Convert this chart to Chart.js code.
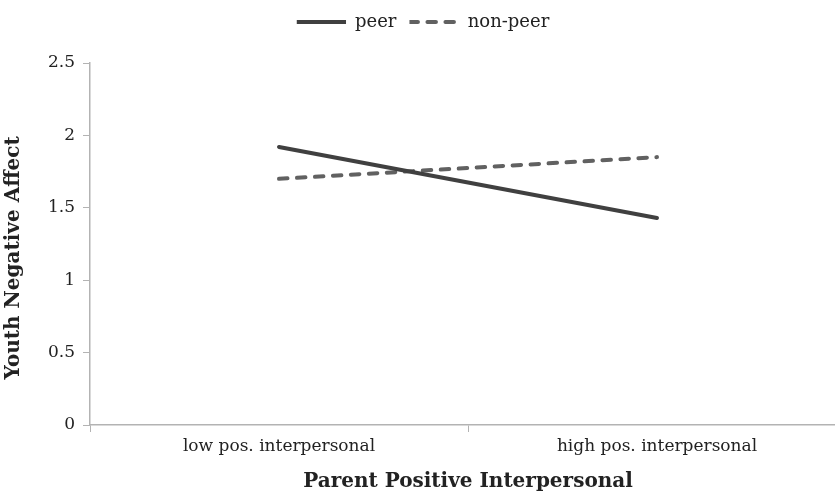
<!DOCTYPE html>
<html>
<head>
<meta charset="utf-8">
<script src="https://cdn.jsdelivr.net/npm/chart.js@4"></script>
<style>
  html, body { margin: 0; padding: 0; background: #fff; overflow: hidden; }
  #wrap { width: 850px; height: 494px; }
</style>
</head>
<body>
<div id="wrap"><canvas id="chart" width="850" height="494"></canvas></div>
<script>
const categories = ["low pos. interpersonal", "high pos. interpersonal"];
const peer = [1.92, 1.43];
const nonPeer = [1.70, 1.85];
const yTicks = [0, 0.5, 1, 1.5, 2, 2.5];

const serif = "'DejaVu Serif', serif";

let ctx = document.getElementById("chart").getContext("2d");

let chart = new Chart(ctx, {
    type: 'line',
    data: {
        labels: categories,
        datasets: [{
            label: 'peer',
            data: peer,
            borderColor: '#404040',
            backgroundColor: '#404040',
            borderWidth: 4,
            pointRadius: 0,
            borderCapStyle: 'round'
        }, {
            label: 'non-peer',
            data: nonPeer,
            borderColor: '#616161',
            backgroundColor: '#616161',
            borderWidth: 4,
            borderDash: [8.5, 9.5],
            pointRadius: 0,
            borderCapStyle: 'round'
        }]
    },
    options: {
        responsive: false,
        animation: false,
        layout: { padding: { top: 0, right: 4, left: 0, bottom: 0 } },
        plugins: {
            legend: {
                position: 'top',
                weight: 3000,
                labels: {
                    boxWidth: 49.25,
                    boxHeight: 0,
                    padding: 13,
                    color: '#222',
                    font: { family: serif, size: 18 }
                }
            },
            // empty spacer between legend and plot
            title: {
                display: true,
                text: '',
                weight: 2000,
                font: { size: 1, lineHeight: 1 },
                padding: { top: 0, bottom: 21 }
            },
            tooltip: { enabled: false }
        },
        scales: {
            x: {
                offset: true,
                grid: {
                    offset: true,
                    drawOnChartArea: false,
                    tickLength: 7,
                    color: '#b3b3b3'
                },
                border: { color: '#b3b3b3', width: 1.5 },
                ticks: {
                    padding: 4,
                    color: '#222',
                    font: { family: serif, size: 17 }
                },
                title: {
                    display: true,
                    text: 'Parent Positive Interpersonal',
                    color: '#222',
                    font: { family: serif, size: 20, weight: 'bold' },
                    padding: { top: 4, bottom: 0 }
                },
                afterFit: s => { s.height = 69; }
            },
            y: {
                min: 0,
                max: 2.5,
                afterBuildTicks: s => { s.ticks = yTicks.map(v => ({ value: v })); },
                grid: {
                    drawOnChartArea: false,
                    tickLength: 7,
                    color: '#b3b3b3'
                },
                border: { color: '#b3b3b3', width: 1.5 },
                ticks: {
                    padding: 8,
                    color: '#222',
                    font: { family: serif, size: 17 },
                    callback: v => String(v)
                },
                title: {
                    display: true,
                    // trailing spaces push the rotated title down, as in the original
                    text: 'Youth Negative Affect    ',
                    color: '#222',
                    font: { family: serif, size: 20, weight: 'bold' },
                    padding: { top: 2, bottom: 0 }
                },
                afterFit: s => { s.width = 90; }
            }
        }
    }
});
</script>
</body>
</html>
